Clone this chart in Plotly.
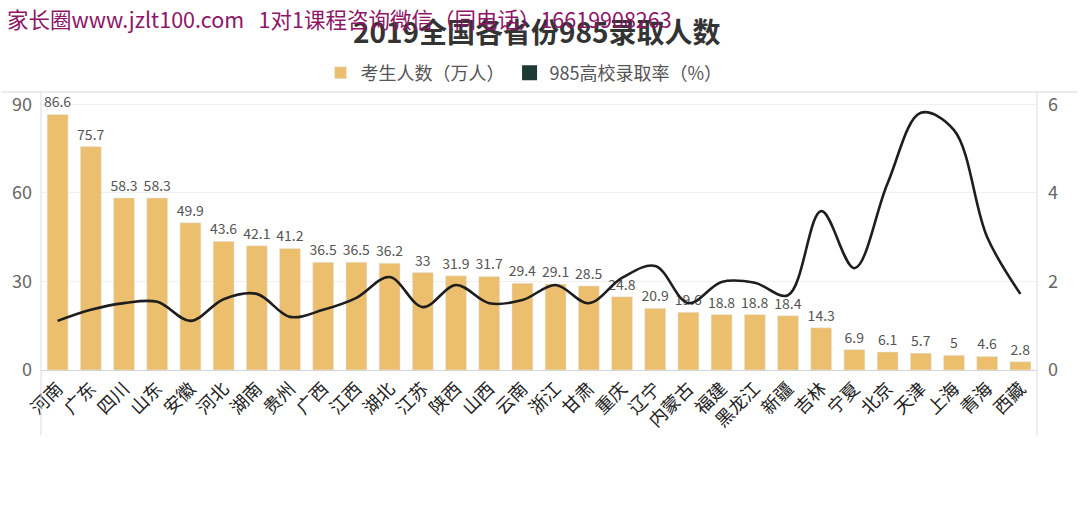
import plotly.graph_objects as go

provinces = ["河南", "广东", "四川", "山东", "安徽", "河北", "湖南", "贵州", "广西", "江西",
             "湖北", "江苏", "陕西", "山西", "云南", "浙江", "甘肃", "重庆", "辽宁", "内蒙古",
             "福建", "黑龙江", "新疆", "吉林", "宁夏", "北京", "天津", "上海", "青海", "西藏"]
examinees = [86.6, 75.7, 58.3, 58.3, 49.9, 43.6, 42.1, 41.2, 36.5, 36.5,
             36.2, 33, 31.9, 31.7, 29.4, 29.1, 28.5, 24.8, 20.9, 19.6,
             18.8, 18.8, 18.4, 14.3, 6.9, 6.1, 5.7, 5, 4.6, 2.8]
rate985 = [1.11, 1.36, 1.51, 1.54, 1.11, 1.60, 1.72, 1.20, 1.36, 1.63,
           2.10, 1.42, 1.92, 1.51, 1.58, 1.92, 1.51, 2.08, 2.35, 1.51,
           1.99, 1.97, 1.69, 3.59, 2.30, 4.22, 5.81, 5.42, 3.00, 1.72]
left_ticks = [0, 30, 60, 90]
right_ticks = [0, 2, 4, 6]

FONT = "Noto Sans CJK SC"
BAR_COLOR = "#EBBF6D"
LINE_COLOR = "#1E1E1E"

fig = go.Figure()
fig.add_trace(go.Bar(
    x=provinces, y=examinees, name="考生人数（万人）",
    marker=dict(color=BAR_COLOR), width=0.63,
    text=[f"{v:g}" for v in examinees], textposition="outside",
    textfont=dict(size=14, color="#555555", family=FONT),
    constraintext="none", cliponaxis=False, yaxis="y",
))
fig.add_trace(go.Scatter(
    x=provinces, y=rate985, mode="lines", name="985高校录取率（%）",
    line=dict(color=LINE_COLOR, width=2.6, shape="spline", smoothing=1.0),
    yaxis="y2", showlegend=False,
))
fig.add_trace(go.Scatter(
    x=[None], y=[None], mode="markers", name="985高校录取率（%）",
    marker=dict(symbol="square", size=15, color="#1F3A35"), yaxis="y2",
))

fig.update_layout(
    width=1080, height=516,
    margin=dict(l=41, r=43, t=92, b=146),
    paper_bgcolor="white", plot_bgcolor="white",
    font=dict(family=FONT, color="#555555"),
    title=dict(text="<b>2019全国各省份985录取人数</b>", x=0.497, xanchor="center",
               y=0.935, yanchor="middle",
               font=dict(size=28, color="#333333", family=FONT)),
    legend=dict(orientation="h", x=0.485, xanchor="center", y=1.068, yanchor="middle",
                font=dict(size=18, color="#555555", family=FONT), bgcolor="rgba(0,0,0,0)",
                itemwidth=30, traceorder="normal", tracegroupgap=0),
    xaxis=dict(type="category", tickangle=-45, tickfont=dict(size=18, color="#222222", family=FONT),
               showline=True, linecolor="#D5D5D5", linewidth=1, ticks="",
               range=[-0.5, len(provinces) - 0.5]),
    yaxis=dict(range=[0, 94.2], tickvals=left_ticks, showgrid=True, gridcolor="#F0F0F0",
               tickfont=dict(size=18, color="#666666", family=FONT), zeroline=False,
               ticks="", ticklabelstandoff=8),
    yaxis2=dict(range=[0, 6.28], tickvals=right_ticks, overlaying="y", side="right",
                showgrid=False, zeroline=False, ticks="",
                tickfont=dict(size=18, color="#666666", family=FONT), ticklabelstandoff=10),
)

# frame lines: top border and the two vertical axis lines extending below labels
fig.add_shape(type="line", xref="paper", yref="paper", x0=-0.04, x1=1.04, y0=1, y1=1,
              line=dict(color="#D8D8D8", width=1))
fig.add_shape(type="line", xref="paper", yref="paper", x0=0, x1=0, y0=-0.235, y1=1,
              line=dict(color="#D8DCE6", width=1))
fig.add_shape(type="line", xref="paper", yref="paper", x0=1, x1=1, y0=-0.235, y1=1,
              line=dict(color="#D8DCE6", width=1))

fig.add_annotation(text="家长圈www.jzlt100.com   1对1课程咨询微信（同电话）16619908263",
                   xref="paper", yref="paper", x=-0.036, y=1.266, xanchor="left", yanchor="middle",
                   showarrow=False, font=dict(size=21.5, color="#8E1567", family=FONT))

fig.write_html("out.html")
